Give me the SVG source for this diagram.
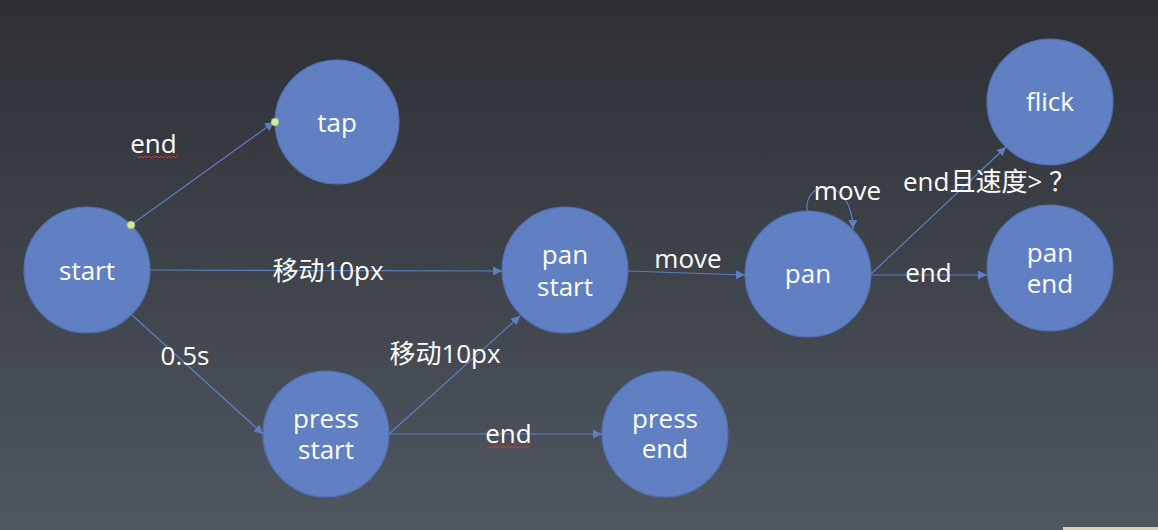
<svg xmlns="http://www.w3.org/2000/svg" width="1158" height="530" viewBox="0 0 1158 530">
<defs>
<linearGradient id="bg" x1="0" y1="0" x2="0" y2="1">
<stop offset="0" stop-color="#2d2f34"/>
<stop offset="1" stop-color="#505761"/>
</linearGradient>
<marker id="arr" viewBox="0 0 10 10" refX="10" refY="5" markerWidth="9" markerHeight="9" markerUnits="userSpaceOnUse" orient="auto">
<path d="M0,0 L10,5 L0,10 Z" fill="#5b7fc4"/>
</marker>
<style>
.node circle{fill:#6080c3;stroke:#5170b3;stroke-width:1.2}
.node text,.lbl{fill:#ffffff;font-family:"Open Sans","Noto Sans CJK SC",sans-serif;font-size:26px;text-anchor:middle}
.edge{stroke:#5b7fc4;stroke-width:1.2;fill:none;marker-end:url(#arr)}
.sq{stroke:#d9342b;stroke-width:1;fill:none}
.dot{fill:#d6eb9a;stroke:#a9c070;stroke-width:0.8}
</style>
</defs>
<rect width="1158" height="530" fill="url(#bg)"/>
<rect x="1063" y="527" width="95" height="3" fill="#d8cfbf"/>

<g id="node-start" class="node"><circle cx="87" cy="270" r="63"/><text x="87" y="280">start</text></g>
<g id="node-tap" class="node"><circle cx="337" cy="122" r="62"/><text x="337" y="132">tap</text></g>
<g id="node-panstart" class="node"><circle cx="565" cy="270" r="63"/><text x="565" y="264">pan</text><text x="565" y="296">start</text></g>
<g id="node-pressstart" class="node"><circle cx="326" cy="434" r="63"/><text x="326" y="428">press</text><text x="326" y="459">start</text></g>
<g id="node-pressend" class="node"><circle cx="665" cy="434" r="63"/><text x="665" y="428">press</text><text x="665" y="458">end</text></g>
<g id="node-pan" class="node"><circle cx="808" cy="274" r="63"/><text x="808" y="283">pan</text></g>
<g id="node-flick" class="node"><circle cx="1050" cy="102" r="63"/><text x="1050" y="111">flick</text></g>
<g id="node-panend" class="node"><circle cx="1050" cy="268" r="63"/><text x="1050" y="262">pan</text><text x="1050" y="293">end</text></g>

<g id="connectors">
<line class="edge" x1="131" y1="225" x2="274" y2="122"/>
<line class="edge" x1="150" y1="270" x2="502" y2="271"/>
<line class="edge" x1="132" y1="315" x2="263" y2="434"/>
<line class="edge" x1="389" y1="434" x2="520" y2="316"/>
<line class="edge" x1="389" y1="434" x2="602" y2="434"/>
<line class="edge" x1="628" y1="271" x2="745" y2="275"/>
<path class="edge" d="M807,211 C804,178 852,176 853,229"/>
<line class="edge" x1="871" y1="274" x2="1006" y2="147"/>
<line class="edge" x1="871" y1="275" x2="987" y2="275"/>
<circle class="dot" cx="131" cy="225" r="3.8"/>
<circle class="dot" cx="275" cy="122" r="3.8"/>
</g>

<g id="labels">
<text class="lbl" x="153.5" y="153">end</text>
<path class="sq" d="M137,156 l2,2 l2,-2 l2,2 l2,-2 l2,2 l2,-2 l2,2 l2,-2 l2,2 l2,-2 l2,2 l2,-2 l2,2 l2,-2 l2,2 l2,-2 l2,2 l2,-2 l2,2 l2,-2"/>
<text class="lbl" x="328" y="280">移动10px</text>
<text class="lbl" x="185" y="365">0.5s</text>
<text class="lbl" x="445" y="363">移动10px</text>
<text class="lbl" x="508.5" y="443">end</text>
<path class="sq" d="M488,446 l2,2 l2,-2 l2,2 l2,-2 l2,2 l2,-2 l2,2 l2,-2 l2,2 l2,-2 l2,2 l2,-2 l2,2 l2,-2 l2,2 l2,-2 l2,2 l2,-2 l2,2 l2,-2 l2,2"/>
<text class="lbl" x="688" y="268">move</text>
<text class="lbl" x="847.5" y="200">move</text>
<text class="lbl" x="989" y="191">end且速度&gt; ？</text>
<text class="lbl" x="928.5" y="282">end</text>
</g>
</svg>
